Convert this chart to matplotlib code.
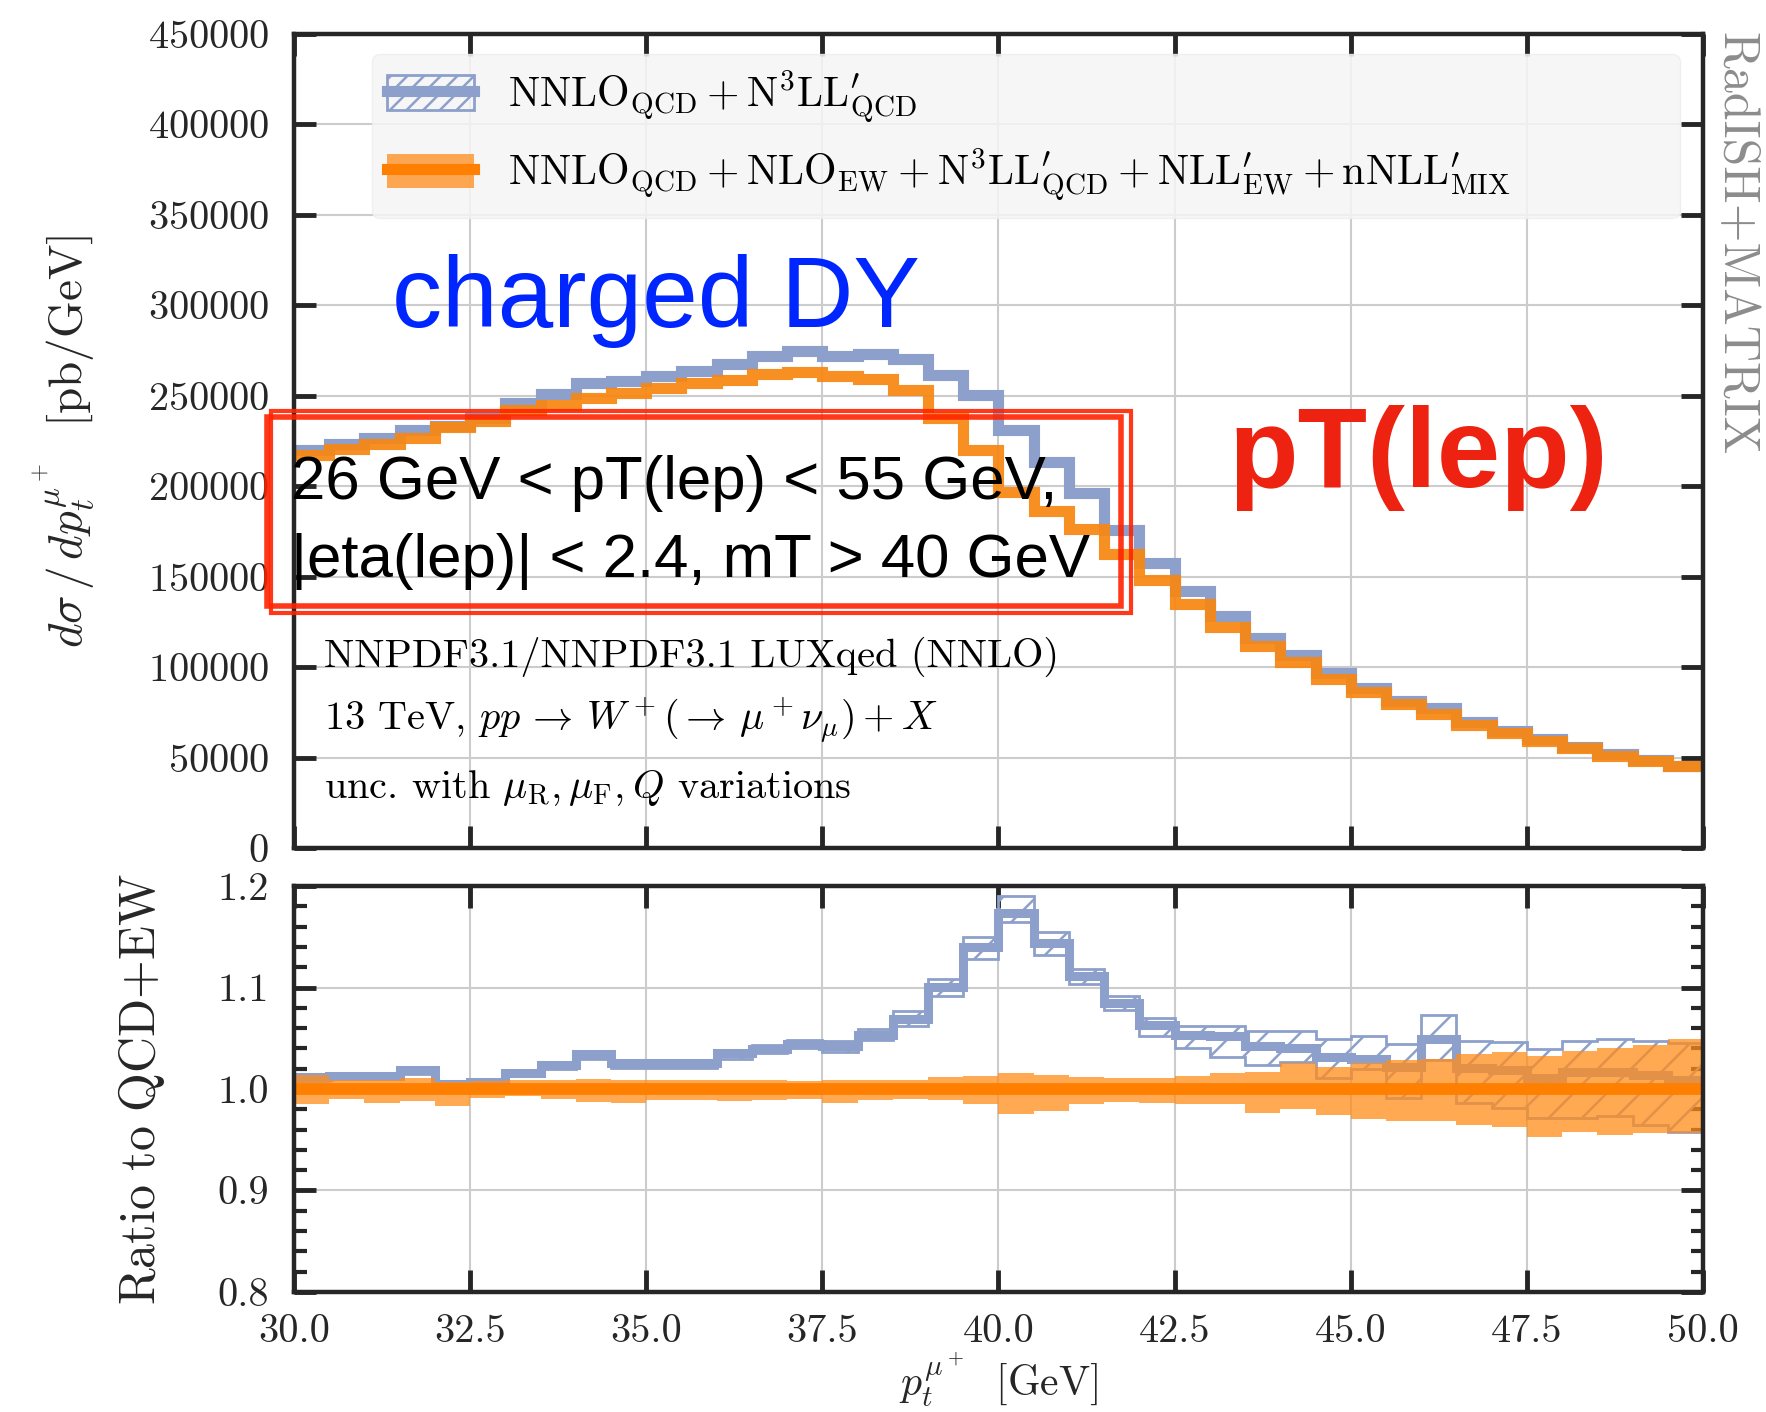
import matplotlib.pyplot as plt
import numpy as np
from matplotlib.patches import Patch, Rectangle
from matplotlib.lines import Line2D
from matplotlib.ticker import MultipleLocator, FormatStrFormatter

plt.rcParams.update({
    'font.family': 'serif',
    'font.serif': ['cmr10'],
    'mathtext.fontset': 'cm',
    'axes.formatter.use_mathtext': True,
    'axes.unicode_minus': False,
    'hatch.linewidth': 1.8,
})

# pT bins [GeV]
edges = np.arange(30.0, 50.01, 0.5)

# dsigma/dpT [pb/GeV]
xs_qcd = [220000, 223500, 226500, 231000, 233500, 237500, 246000, 251000, 257000, 258000,
          261000, 263500, 267500, 272000, 274500, 272000, 273000, 270500, 261500, 250500,
          231000, 213500, 196000, 176000, 157500, 142000, 128000, 116000, 106500, 96500,
          88500, 81500, 77500, 69500, 64700, 60000, 56000, 51900, 48900, 45500]
xs_qcd_ew = [217000, 220500, 223500, 226500, 232500, 236000, 242000, 245000, 248500, 251500,
             254500, 257000, 258500, 262000, 263000, 261000, 259500, 253000, 237500, 220000,
             197000, 186500, 176500, 162500, 148000, 135000, 122000, 111400, 102600, 93400,
             86000, 79600, 74000, 68100, 63500, 59300, 55100, 51000, 48200, 45100]

# ratio to QCD+EW
r_qcd = [1.012, 1.013, 1.013, 1.019, 1.005, 1.007, 1.016, 1.024, 1.034, 1.026,
         1.026, 1.026, 1.035, 1.039, 1.044, 1.042, 1.053, 1.069, 1.101, 1.140,
         1.173, 1.144, 1.111, 1.085, 1.063, 1.053, 1.052, 1.042, 1.040, 1.032,
         1.030, 1.022, 1.049, 1.021, 1.019, 1.011, 1.017, 1.017, 1.014, 1.009]
r_qcd_hi = [1.014, 1.015, 1.015, 1.022, 1.007, 1.009, 1.019, 1.027, 1.036, 1.029,
            1.029, 1.029, 1.038, 1.043, 1.048, 1.047, 1.059, 1.077, 1.108, 1.150,
            1.190, 1.155, 1.118, 1.092, 1.070, 1.062, 1.062, 1.057, 1.057, 1.049,
            1.052, 1.044, 1.073, 1.047, 1.046, 1.039, 1.047, 1.049, 1.047, 1.045]
r_qcd_lo = [1.008, 1.010, 1.010, 1.015, 1.002, 1.004, 1.013, 1.020, 1.030, 1.021,
            1.021, 1.021, 1.030, 1.035, 1.040, 1.036, 1.048, 1.062, 1.092, 1.128,
            1.165, 1.132, 1.103, 1.078, 1.052, 1.040, 1.032, 1.024, 1.027, 1.011,
            1.020, 0.991, 1.029, 0.986, 0.981, 0.971, 0.971, 0.973, 0.965, 0.958]
r_ew = np.ones(40)
r_ew_hi = [1.014, 1.009, 1.009, 1.011, 1.007, 1.008, 1.009, 1.009, 1.010, 1.009,
           1.009, 1.009, 1.009, 1.009, 1.008, 1.009, 1.009, 1.009, 1.012, 1.013,
           1.016, 1.014, 1.012, 1.011, 1.011, 1.013, 1.016, 1.017, 1.026, 1.022,
           1.026, 1.029, 1.030, 1.034, 1.036, 1.033, 1.037, 1.040, 1.043, 1.049]
r_ew_lo = [0.985, 0.990, 0.986, 0.988, 0.983, 0.991, 0.993, 0.990, 0.987, 0.986,
           0.989, 0.989, 0.988, 0.989, 0.990, 0.986, 0.989, 0.990, 0.989, 0.985,
           0.975, 0.978, 0.985, 0.987, 0.986, 0.985, 0.985, 0.976, 0.980, 0.974,
           0.970, 0.968, 0.968, 0.965, 0.963, 0.953, 0.958, 0.955, 0.957, 0.957]

BLUE = '#8da0cb'
ORANGE = '#ff7f00'
ORANGE_BAND = '#ff8c1a'
DARK = '#262626'

label_qcd = r'$\mathrm{NNLO}_{\mathrm{QCD}}+\mathrm{N}^{3}\mathrm{LL}^{\prime}_{\mathrm{QCD}}$'
label_ew = (r'$\mathrm{NNLO}_{\mathrm{QCD}}+\mathrm{NLO}_{\mathrm{EW}}+\mathrm{N}^{3}\mathrm{LL}^{\prime}_{\mathrm{QCD}}'
            r'+\mathrm{NLL}^{\prime}_{\mathrm{EW}}+\mathrm{nNLL}^{\prime}_{\mathrm{MIX}}$')

fig = plt.figure(figsize=(17.66, 14.12), dpi=100)
ax1 = fig.add_axes([0.1665, 0.3994, 0.7978, 0.5766])
ax2 = fig.add_axes([0.1665, 0.085, 0.7978, 0.2875])

for ax in (ax1, ax2):
    ax.set_xlim(30, 50)
    ax.xaxis.set_major_locator(MultipleLocator(2.5))
    ax.grid(True, color='#cccccc', lw=1.5)
    ax.set_axisbelow(True)
    for s in ax.spines.values():
        s.set_linewidth(3.2)
        s.set_color(DARK)
    ax.tick_params(which='major', direction='in', length=16, width=3.5, color=DARK,
                   top=True, right=True, labelsize=29, labelcolor=DARK)

# upper panel: spectra
ax1.stairs(xs_qcd, edges, baseline=None, color=BLUE, lw=8)
ax1.stairs(xs_qcd_ew, edges, baseline=None, color='#f8860f', lw=8, alpha=0.92)
ax1.set_ylim(0, 450000)
ax1.yaxis.set_major_locator(MultipleLocator(50000))
ax1.tick_params(axis='x', labelbottom=False)
ax1.tick_params(axis='y', pad=18)
ax1.set_ylabel(r'$d\sigma\,/\,dp_t^{\mu^+}\ \ [\mathrm{pb/GeV}]$', fontsize=34, color=DARK)
ax1.yaxis.set_label_coords(-0.14, 0.5)

h_qcd = (Patch(facecolor='none', edgecolor=BLUE, hatch='//', lw=2),
         Line2D([], [], color=BLUE, lw=8))
h_ew = (Patch(facecolor=ORANGE_BAND, alpha=0.75, edgecolor='none'),
        Line2D([], [], color=ORANGE, lw=8))
leg = ax1.legend([h_qcd, h_ew], [label_qcd, label_ew], loc='upper left',
                 bbox_to_anchor=(0.0554, 0.70, 0.928, 0.2754), mode='expand',
                 borderaxespad=0, fontsize=30, handlelength=2.1, handleheight=0.9,
                 handletextpad=0.8, labelspacing=0.5, borderpad=0.35,
                 frameon=True, fancybox=True, framealpha=0.85)
leg.get_frame().set_facecolor('#f5f5f5')
leg.get_frame().set_edgecolor('#eeeeee')

info = ['NNPDF3.1/NNPDF3.1 LUXqed (NNLO)',
        r'13 TeV, $pp\,\rightarrow\,W^+(\rightarrow\,\mu^+\nu_\mu)+X$',
        r'unc. with $\mu_{\mathrm{R}},\mu_{\mathrm{F}},Q$ variations']
for txt, yy in zip(info, [0.2346, 0.156, 0.0737]):
    ax1.text(0.0213, yy, txt, transform=ax1.transAxes, fontsize=29, va='center', ha='left')

# lower panel: ratio
ax2.stairs(r_qcd_hi, edges, baseline=r_qcd_lo, fill=True, facecolor='none',
           edgecolor=BLUE, hatch='/', lw=2)
ax2.stairs(r_qcd, edges, baseline=None, color=BLUE, lw=6.5)
ax2.stairs(r_ew_hi, edges, baseline=r_ew_lo, fill=True, facecolor=ORANGE_BAND,
           edgecolor='none', alpha=0.75)
ax2.stairs(r_ew, edges, baseline=None, color=ORANGE, lw=8.5)
ax2.set_ylim(0.8, 1.2)
ax2.yaxis.set_major_locator(MultipleLocator(0.1))
ax2.yaxis.set_minor_locator(MultipleLocator(0.02))
ax2.yaxis.set_major_formatter(FormatStrFormatter('%.1f'))
ax2.xaxis.set_major_formatter(FormatStrFormatter('%.1f'))
ax2.tick_params(which='minor', axis='y', direction='in', length=9, width=3,
                color=DARK, left=True, right=True)
ax2.tick_params(axis='y', pad=18)
ax2.tick_params(axis='x', pad=16)
ax2.set_ylabel(r'$\mathrm{Ratio\ to\ QCD{+}EW}$', fontsize=36, color=DARK)
ax2.yaxis.set_label_coords(-0.09, 0.5)
ax2.set_xlabel(r'$p_t^{\mu^+}\ \ [\mathrm{GeV}]$', fontsize=30, color=DARK)
ax2.xaxis.set_label_coords(0.5, -0.145)

fig.text(0.9824, 0.977, 'RadISH+MATRIX', rotation=270, ha='center', va='top',
         fontsize=36, color='#8c8c8c')

# overlaid annotations
fig.text(0.222, 0.7684, 'charged DY', family='Liberation Sans', fontsize=72,
         color='#0026ff', va='baseline', ha='left')
fig.text(0.6954, 0.655, 'pT(lep)', family='Liberation Sans', fontsize=82,
         fontweight='bold', color='#ee2211', va='baseline', ha='left')
fig.text(0.1648, 0.6466, '26 GeV < pT(lep) < 55 GeV,', family='Liberation Sans',
         fontsize=44.5, va='baseline', ha='left')
fig.text(0.1648, 0.5914, '|eta(lep)| < 2.4, mT > 40 GeV', family='Liberation Sans',
         fontsize=44.5, va='baseline', ha='left')
for (x0, y0, x1, y1, w) in [(267, 417, 1121, 606, 4), (271, 411, 1131, 613, 3)]:
    fig.add_artist(Rectangle((x0 / 1766, 1 - y1 / 1412), (x1 - x0) / 1766, (y1 - y0) / 1412,
                             transform=fig.transFigure, fill=False, edgecolor='#ff2200',
                             lw=w, alpha=0.9))

fig.savefig('out.png', dpi=100)
